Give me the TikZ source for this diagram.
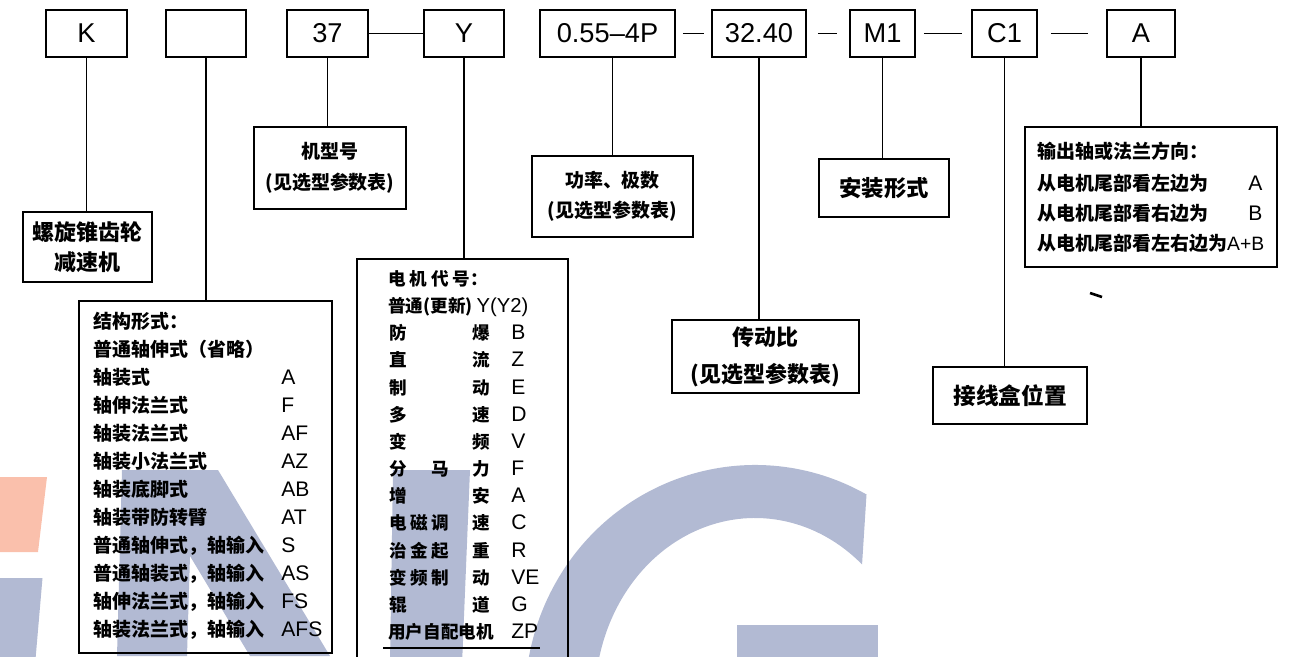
\documentclass[tikz,border=0pt]{standalone}
\usepackage{fontspec}
\setmainfont{Liberation Sans}
\newfontfamily\cjk{Noto Sans CJK SC}
\definecolor{wmblue}{RGB}{178,186,211}
\definecolor{wmorange}{RGB}{250,192,172}

\begin{document}
\begin{tikzpicture}[
    codebox/.style={draw, line width=1pt, inner sep=0pt, minimum height=0.94cm, font=\fontsize{15.5}{18}\selectfont},
    descbox/.style={draw, line width=1pt, inner sep=0pt, align=center},
    rowtext/.style={anchor=west, inner sep=0pt, text height=0.30cm, text depth=0.08cm},
    cjkrow/.style={font=\cjk\bfseries\fontsize{10.8}{13}\selectfont},
    motorrow/.style={font=\cjk\bfseries\fontsize{10}{13}\selectfont},
    abbr/.style={font=\fontsize{12}{14}\selectfont},
    wire/.style={line width=0.8pt}]
      \useasboundingbox (0,0) rectangle (25.92,-13.12);
      \clip (0,0) rectangle (25.92,-13.12);

      % Watermark letters
      \fill[wmorange] (0,-9.54) -- (0.94,-9.54) -- (0.76,-11.04) -- (0,-11.04) -- cycle;
      \fill[wmblue] (0,-11.56) -- (0.85,-11.56) -- (0.70,-13.3) -- (0,-13.3) -- cycle;
      \fill[wmblue] (2.44,-9.40) -- (4.36,-9.40) -- (6.60,-13.12) -- (5.00,-13.12) -- (3.80,-11.12) -- (3.74,-13.12) -- (2.34,-13.12) -- cycle;
      \fill[wmblue] (7.86,-9.40) -- (9.40,-9.40) -- (9.24,-13.3) -- (7.80,-13.3) -- cycle;
      \coordinate (gc) at (15.10,-14.00);
      \fill[wmblue] ([shift={(61:4.60 and 4.70)}]gc) arc[start angle=61, end angle=200, x radius=4.60, y radius=4.70]
          -- ([shift={(200:3.20 and 3.56)}]gc) arc[start angle=200, end angle=48, x radius=3.20, y radius=3.62] -- cycle;
      \fill[wmblue] (14.74,-12.50) rectangle (17.56,-13.3);

      % Code boxes
      \node[codebox, minimum width=1.62cm] (kbox) at (1.73,-0.67) {K};
      \node[codebox, minimum width=1.60cm] (typebox) at (4.12,-0.67) {};
      \node[codebox, minimum width=1.62cm] (sizebox) at (6.55,-0.67) {37};
      \node[codebox, minimum width=1.60cm] (motorbox) at (9.28,-0.67) {Y};
      \node[codebox, minimum width=2.70cm] (powerbox) at (12.15,-0.67) {0.55–4P};
      \node[codebox, minimum width=1.88cm] (ratiobox) at (15.18,-0.67) {32.40};
      \node[codebox, minimum width=1.30cm] (posbox) at (17.65,-0.67) {M1};
      \node[codebox, minimum width=1.30cm] (termbox) at (20.09,-0.67) {C1};
      \node[codebox, minimum width=1.36cm] (dirbox) at (22.82,-0.67) {A};

      % Separators
      \draw[wire] (sizebox) -- (motorbox);
      \draw[wire, shorten <=0.14cm, shorten >=0.14cm] (powerbox) -- (ratiobox);
      \draw[wire, shorten <=0.22cm, shorten >=0.24cm] (ratiobox) -- (posbox);
      \draw[wire, shorten <=0.16cm, shorten >=0.18cm] (posbox) -- (termbox);
      \draw[wire, shorten <=0.26cm, shorten >=0.36cm] (termbox) -- (dirbox);

      % Description boxes
      \node[descbox, minimum width=2.58cm, minimum height=1.40cm, font=\cjk\bfseries\fontsize{12.5}{17}\selectfont] (kdesc) at (1.75,-4.94) {螺旋锥齿轮\\减速机};
      \node[descbox, minimum width=3.04cm, minimum height=1.64cm, font=\cjk\bfseries\fontsize{10.8}{17.6}\selectfont] (sizedesc) at (6.60,-3.36) {机型号\\(见选型参数表)};
      \node[descbox, minimum width=3.22cm, minimum height=1.62cm, font=\cjk\bfseries\fontsize{10.8}{17}\selectfont] (powerdesc) at (12.25,-3.93) {功率、极数\\(见选型参数表)};
      \node[descbox, minimum width=3.74cm, minimum height=1.46cm, font=\cjk\bfseries\fontsize{12.5}{21}\selectfont] (ratiodesc) at (15.31,-7.13) {传动比\\(见选型参数表)};
      \node[descbox, minimum width=2.60cm, minimum height=1.16cm, font=\cjk\bfseries\fontsize{12.7}{15}\selectfont] (posdesc) at (17.68,-3.76) {安装形式};
      \node[descbox, minimum width=3.08cm, minimum height=1.14cm, font=\cjk\bfseries\fontsize{12.9}{15}\selectfont] (termdesc) at (20.20,-7.91) {接线盒位置};
      \node[descbox, minimum width=5.06cm, minimum height=7.04cm] (typedesc) at (4.11,-9.54) {};
      \node[descbox, minimum width=4.22cm, minimum height=8.30cm] (motordesc) at (9.25,-9.33) {};
      \node[descbox, minimum width=5.04cm, minimum height=2.80cm] (dirdesc) at (23.02,-3.94) {};

      % Connections
      \draw[wire] (kbox.south) -- (kbox.south |- kdesc.north);
      \draw[wire] (typebox.south) -- (typebox.south |- typedesc.north);
      \draw[wire] (sizebox.south) -- (sizebox.south |- sizedesc.north);
      \draw[wire] (motorbox.south) -- (motorbox.south |- motordesc.north);
      \draw[wire] (powerdesc.north |- powerbox.south) -- (powerdesc.north);
      \draw[wire] (ratiobox.south) -- (ratiobox.south |- ratiodesc.north);
      \draw[wire] (posbox.south) -- (posbox.south |- posdesc.north);
      \draw[wire] (termbox.south) -- (termbox.south |- termdesc.north);
      \draw[wire] (dirbox.south) -- (dirbox.south |- dirdesc.north);

      % Structure legend
      \foreach \txt/\code [count=\i] in {结构形式：/{}, 普通轴伸式（省略）/{}, 轴装式/A, 轴伸法兰式/F, 轴装法兰式/AF, 轴装小法兰式/AZ, 轴装底脚式/AB, 轴装带防转臂/AT, 普通轴伸式，轴输入/S, 普通轴装式，轴输入/AS, 轴伸法兰式，轴输入/FS, 轴装法兰式，轴输入/AFS}
      {
        \node[rowtext, cjkrow] (st\i) at (1.86,{-6.46-0.56*(\i-1)}) {\txt};
        \node[rowtext, abbr] (sc\i) at (5.62,{-6.46-0.56*(\i-1)}) {\code};
      }

      % Motor legend
      \node[rowtext, motorrow] (mt1) at (7.76,-5.60) {电\hspace{0.22em}机\hspace{0.22em}代\hspace{0.22em}号：};
      \node[rowtext, motorrow] (mt2) at (7.76,-6.14) {普通(更新)\ {\fontspec{Liberation Sans}\mdseries\fontsize{11.5}{13}\selectfont Y(Y2)}};
      \foreach \ca/\cb/\cc/\cd/\code [count=\i from 3] in {防/{}/{}/爆/B, 直/{}/{}/流/Z, 制/{}/{}/动/E, 多/{}/{}/速/D, 变/{}/{}/频/V, 分/{}/马/力/F, 增/{}/{}/安/A, 电/磁/调/速/C, 治/金/起/重/R, 变/频/制/动/VE, 辊/{}/{}/道/G}
      {
        \node[rowtext, motorrow] (ma\i) at (7.78,{-5.60-0.543*(\i-1)}) {\ca};
        \node[rowtext, motorrow] (mb\i) at (8.20,{-5.60-0.543*(\i-1)}) {\cb};
        \node[rowtext, motorrow] (mc\i) at (8.62,{-5.60-0.543*(\i-1)}) {\cc};
        \node[rowtext, motorrow] (md\i) at (9.44,{-5.60-0.543*(\i-1)}) {\cd};
        \node[rowtext, abbr] (mx\i) at (10.22,{-5.60-0.543*(\i-1)}) {\code};
      }
      \node[rowtext, motorrow] (mt14) at (7.76,-12.66) {用户自配电机};
      \node[rowtext, abbr] (mx14) at (10.22,-12.66) {ZP};
      \draw[wire] (7.66,-12.96) -- (10.80,-12.96);

      % Direction legend
      \node[rowtext, cjkrow] (dt1) at (20.74,-3.06) {输出轴或法兰方向：};
      \node[rowtext, cjkrow] (dt2) at (20.74,-3.70) {从电机尾部看左边为};
      \node[rowtext, abbr] (dx2) at (24.96,-3.70) {A};
      \node[rowtext, cjkrow] (dt3) at (20.74,-4.30) {从电机尾部看右边为};
      \node[rowtext, abbr] (dx3) at (24.96,-4.30) {B};
      \node[rowtext, cjkrow] (dt4) at (20.74,-4.90) {从电机尾部看左右边为{\fontspec{Liberation Sans}\mdseries\fontsize{11}{13}\selectfont A+B}};

      % Stray mark
      \draw[line width=1.5pt] (21.80,-5.86) -- (22.04,-5.94);

    \end{tikzpicture}
\end{document}
